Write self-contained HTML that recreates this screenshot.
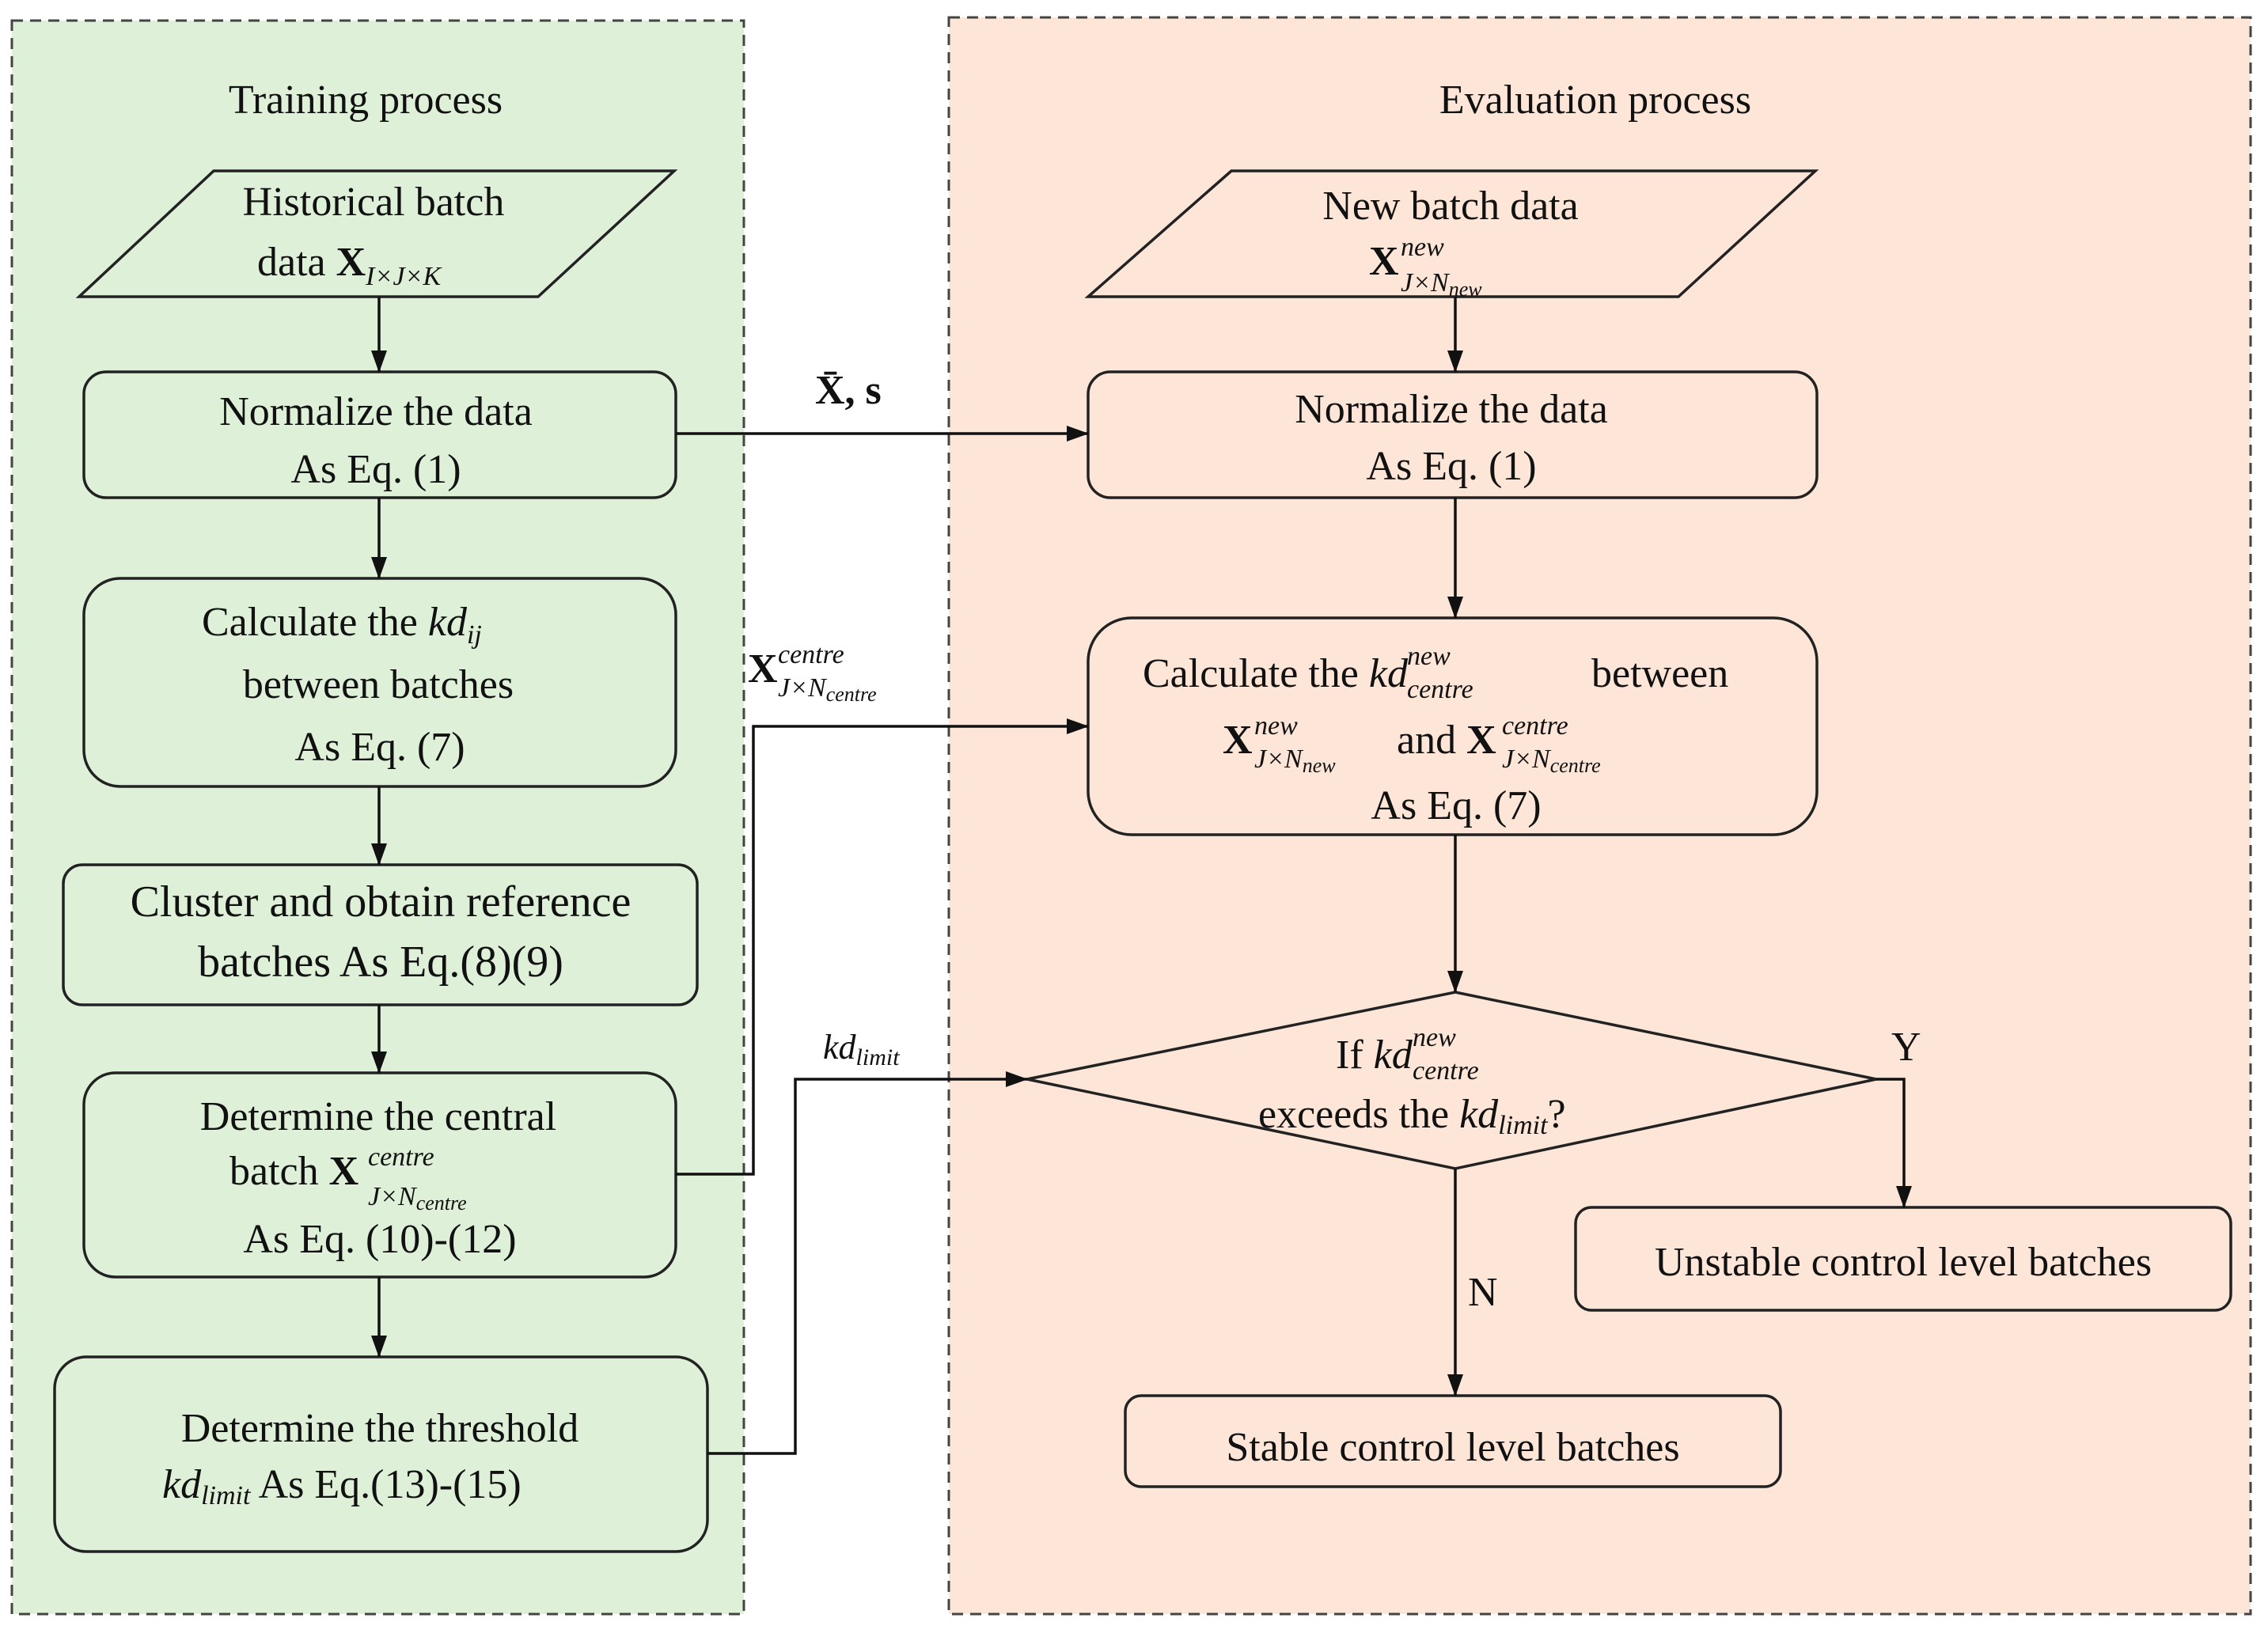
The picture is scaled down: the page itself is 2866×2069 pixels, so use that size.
<!DOCTYPE html>
<html><head><meta charset="utf-8"><style>
html,body{margin:0;padding:0;background:#fff}
svg{display:block}
text{font-family:"Liberation Serif",serif;fill:#111}
.t{font-size:52px}
.s{font-size:34px;font-style:italic}
.b{font-weight:bold}
.i{font-style:italic}
</style></head><body>
<svg width="2866" height="2069" viewBox="0 0 2866 2069" xmlns="http://www.w3.org/2000/svg">
<defs>
<marker id="ar" markerWidth="28" markerHeight="28" refX="27" refY="14" orient="auto" markerUnits="userSpaceOnUse" viewBox="0 0 28 28"><path d="M0,4 L28,14 L0,24 z" fill="#111"/></marker></defs>
<rect x="15" y="26" width="925" height="2014" fill="#dff0d9" stroke="#444" stroke-width="3" stroke-dasharray="14,9"/>
<rect x="1199" y="22" width="1645" height="2018" fill="#fde6d8" stroke="#444" stroke-width="3" stroke-dasharray="14,9"/>
<g fill="none" stroke="#222" stroke-width="3.5">
<polygon points="270,216 852,216 680,375 100,375"/>
<rect x="106" y="470" width="748" height="159" rx="28"/>
<rect x="106" y="731" width="748" height="263" rx="46"/>
<rect x="80" y="1093" width="801" height="177" rx="24"/>
<rect x="106" y="1356" width="748" height="258" rx="40"/>
<rect x="69" y="1715" width="825" height="246" rx="40"/>
<polygon points="1556,216 2294,216 2121,375 1375,375"/>
<rect x="1375" y="470" width="921" height="159" rx="28"/>
<rect x="1375" y="781" width="921" height="274" rx="55"/>
<polygon points="1839,1254 2371,1364 1839,1477 1298,1364"/>
<rect x="1991" y="1526" width="828" height="130" rx="20"/>
<rect x="1422" y="1764" width="828" height="115" rx="20"/>
</g>
<g fill="none" stroke="#111" stroke-width="3.5" marker-end="url(#ar)">
<path d="M479,375 V470"/><path d="M479,629 V731"/><path d="M479,994 V1093"/><path d="M479,1270 V1356"/><path d="M479,1614 V1715"/>
<path d="M854,548 H1375"/>
<path d="M854,1484 H952 V918 H1375"/>
<path d="M894,1837 H1005 V1364 H1298"/>
<path d="M1839,375 V470"/><path d="M1839,629 V781"/><path d="M1839,1055 V1254"/>
<path d="M2371,1364 H2406 V1526"/>
<path d="M1839,1477 V1764"/>
</g>
<text class="t" x="462" y="143" text-anchor="middle">Training process</text>
<text class="t" x="2016" y="143" text-anchor="middle">Evaluation process</text>
<text class="t" x="472" y="272" text-anchor="middle">Historical batch</text>
<text class="t" x="325" y="348">data <tspan class="b">X</tspan><tspan class="s" dy="12">I×J×K</tspan></text>
<text class="t" x="475" y="537" text-anchor="middle">Normalize the data</text>
<text class="t" x="475" y="610" text-anchor="middle">As Eq. (1)</text>
<text class="t" x="255" y="803">Calculate the <tspan class="i">kd</tspan><tspan class="s" dy="10">ij</tspan></text>
<text class="t" x="478" y="882" text-anchor="middle">between batches</text>
<text class="t" x="480" y="961" text-anchor="middle">As Eq. (7)</text>
<text class="t" x="481" y="1158" text-anchor="middle" style="font-size:56px">Cluster and obtain reference</text>
<text class="t" x="481" y="1234" text-anchor="middle" style="font-size:56px">batches As Eq.(8)(9)</text>
<text class="t" x="478" y="1428" text-anchor="middle">Determine the central</text>
<text class="t" x="290" y="1497">batch <tspan class="b">X</tspan></text>
<text class="s" x="465" y="1473">centre</text>
<text class="s" x="465" y="1523">J×N<tspan font-size="26" dy="6">centre</tspan></text>
<text class="t" x="480" y="1583" text-anchor="middle">As Eq. (10)-(12)</text>
<text class="t" x="480" y="1822" text-anchor="middle">Determine the threshold</text>
<text class="t" x="205" y="1893"><tspan class="i">kd</tspan><tspan class="s" dy="8">limit</tspan><tspan dy="-8"> As Eq.(13)-(15)</tspan></text>
<text class="t b" x="1030" y="510">X̄, s</text>
<text class="t b" x="945" y="862">X</text>
<text class="s" x="983" y="838">centre</text>
<text class="s" x="983" y="880">J×N<tspan font-size="26" dy="6">centre</tspan></text>
<text class="t i" x="1040" y="1338" style="font-size:44px">kd<tspan font-size="30" dy="8">limit</tspan></text>
<text class="t" x="1833" y="277" text-anchor="middle">New batch data</text>
<text class="t b" x="1730" y="347">X</text>
<text class="s" x="1770" y="323">new</text>
<text class="s" x="1770" y="368">J×N<tspan font-size="26" dy="6">new</tspan></text>
<text class="t" x="1834" y="534" text-anchor="middle">Normalize the data</text>
<text class="t" x="1834" y="606" text-anchor="middle">As Eq. (1)</text>
<text class="t" x="1444" y="868">Calculate the <tspan class="i">kd</tspan></text>
<text class="s" x="1778" y="840">new</text>
<text class="s" x="1778" y="882">centre</text>
<text class="t" x="2011" y="868">between</text>
<text class="t b" x="1545" y="952">X</text>
<text class="s" x="1585" y="928">new</text>
<text class="s" x="1585" y="970">J×N<tspan font-size="26" dy="6">new</tspan></text>
<text class="t" x="1765" y="952">and <tspan class="b">X</tspan></text>
<text class="s" x="1898" y="928">centre</text>
<text class="s" x="1898" y="970">J×N<tspan font-size="26" dy="6">centre</tspan></text>
<text class="t" x="1840" y="1035" text-anchor="middle">As Eq. (7)</text>
<text class="t" x="1688" y="1350">If <tspan class="i">kd</tspan></text>
<text class="s" x="1785" y="1322">new</text>
<text class="s" x="1785" y="1364">centre</text>
<text class="t" x="1590" y="1425">exceeds the <tspan class="i">kd</tspan><tspan class="s" font-size="30" dy="8">limit</tspan><tspan dy="-8">?</tspan></text>
<text class="t" x="2390" y="1340">Y</text>
<text class="t" x="1855" y="1650">N</text>
<text class="t" x="2405" y="1612" text-anchor="middle">Unstable control level batches</text>
<text class="t" x="1836" y="1846" text-anchor="middle">Stable control level batches</text>
</svg>
</body></html>
